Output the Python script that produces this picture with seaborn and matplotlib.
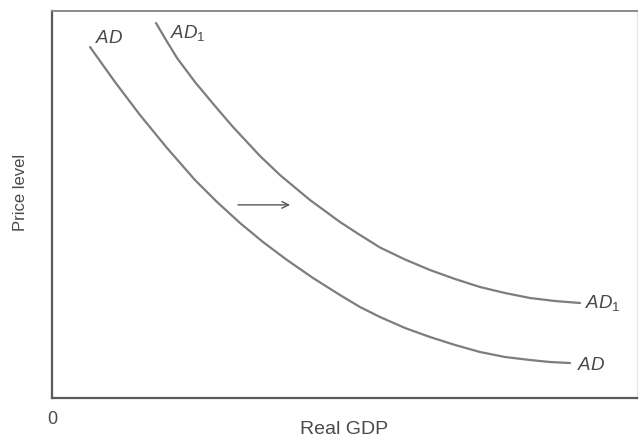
import matplotlib
matplotlib.use("Agg")
import matplotlib.pyplot as plt
import seaborn as sns
import pandas as pd

# Data (in 0-100 chart units)
ad_x = [6.50, 10.77, 15.04, 19.66, 24.44, 28.21, 32.14, 36.07, 40.17, 44.62, 49.23,
        52.65, 56.07, 60.34, 64.62, 68.89, 73.16, 77.44, 81.71, 85.13, 88.55]
ad_y = [90.70, 81.65, 73.13, 64.60, 56.33, 50.65, 45.22, 40.31, 35.66, 31.01, 26.61,
        23.51, 20.93, 18.09, 15.76, 13.70, 11.89, 10.59, 9.82, 9.30, 9.04]
ad1_x = [17.78, 19.49, 21.37, 24.44, 27.86, 30.94, 35.56, 38.97, 44.10, 49.23,
         52.65, 56.07, 60.34, 64.62, 68.89, 73.16, 77.44, 81.71, 85.98, 90.26]
ad1_y = [96.90, 92.51, 87.86, 81.65, 75.45, 70.03, 62.53, 57.62, 51.16, 45.48,
         42.12, 38.89, 35.79, 33.07, 30.75, 28.68, 27.13, 25.84, 25.06, 24.55]
x_label = "Real GDP"
y_label = "Price level"
origin_label = "0"

sns.set_style("white")
plt.rcParams["font.family"] = ["Liberation Sans", "DejaVu Sans"]
plt.rcParams["mathtext.fontset"] = "custom"
plt.rcParams["mathtext.it"] = "Liberation Sans:italic"
plt.rcParams["mathtext.rm"] = "Liberation Sans"

df = pd.concat([
    pd.DataFrame({"x": ad_x, "y": ad_y, "curve": "AD"}),
    pd.DataFrame({"x": ad1_x, "y": ad1_y, "curve": "AD1"}),
])

fig = plt.figure(figsize=(6.39, 4.46), dpi=100)
ax = fig.add_axes([52/639, 48/446, 585/639, 387/446])

line_col = "#7d7d7d"
sns.lineplot(data=df, x="x", y="y", units="curve", estimator=None, sort=False,
             color=line_col, linewidth=1.6, ax=ax, legend=False)
for ln in ax.lines:
    ln.set_solid_joinstyle("round")
    ln.set_solid_capstyle("round")

ax.set_xlim(0, 100)
ax.set_ylim(0, 100)

text_col = "#4a4a4a"
lab_kw = dict(fontsize=13.5, color=text_col, va="baseline", ha="left")
ax.text(7.3, 91.7, r"$\mathit{AD}$", **lab_kw)
ax.text(20.2, 93.0, r"$\mathit{AD}_{\mathrm{1}}$", **lab_kw)
ax.text(91.1, 23.3, r"$\mathit{AD}_{\mathrm{1}}$", **lab_kw)
ax.text(89.7, 7.2, r"$\mathit{AD}$", **lab_kw)

ax.annotate("", xy=(40.7, 49.9), xytext=(31.8, 49.9),
            arrowprops=dict(arrowstyle="->", color="#555555", lw=1.0,
                            shrinkA=0, shrinkB=0, mutation_scale=12))

ax.set_xticks([0])
ax.set_xticklabels([origin_label])
ax.set_yticks([])
ax.tick_params(axis="x", length=0, pad=9, labelsize=13, labelcolor=text_col)

ax.set_xlabel(x_label, fontsize=14, color=text_col, labelpad=-5)
ax.set_ylabel(y_label, fontsize=12, color=text_col)
ax.yaxis.set_label_coords(-0.041, 0.53)

for side in ["left", "bottom"]:
    ax.spines[side].set_color("#5a5a5a")
    ax.spines[side].set_linewidth(1.6)
ax.spines["top"].set_color("#8a8a8a")
ax.spines["top"].set_linewidth(1.4)
ax.spines["right"].set_color("#e6e6e6")
ax.spines["right"].set_linewidth(1.0)

fig.savefig("out.png", dpi=100)
